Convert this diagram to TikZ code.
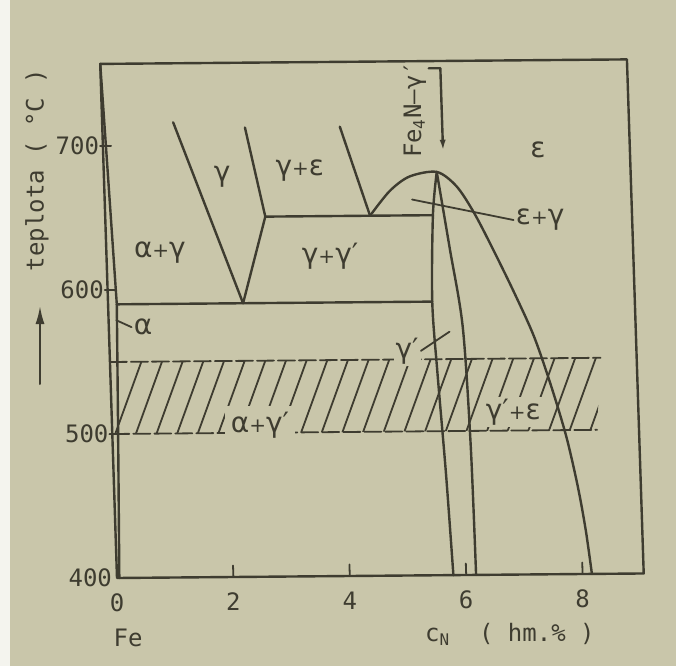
\documentclass[tikz,border=0pt]{standalone}
\usepackage{fontspec}
\setmainfont{DejaVu Sans}
\newfontfamily\monofnt{DejaVu Sans Mono}
\usetikzlibrary{arrows.meta}
\definecolor{paper}{RGB}{201,198,170}
\definecolor{ink}{RGB}{62,60,48}
\newcommand\plusm{{\fontsize{10}{10}\selectfont +}}
\begin{document}
\begin{tikzpicture}[
  line cap=round, line join=round,
  phase/.style={draw=ink, line width=1.2pt},
  thinline/.style={draw=ink, line width=0.9pt},
  lbl/.style={font=\fontsize{14}{14}\selectfont, text=ink, inner sep=1pt},
  num/.style={font=\monofnt\fontsize{12}{12}\selectfont, text=ink, inner sep=0pt},
]
\useasboundingbox (0,0) rectangle (338pt,333pt);
\fill[paper] (0,0) rectangle (338pt,333pt);
\fill[white!80!paper] (0,0) rectangle (5pt,333pt);

% y axis title and arrow
\node[num, rotate=90] (ytitle) at (18.5pt,248pt) {teplota ( °C )};
\coordinate (arrtail) at (20pt,141pt);
\coordinate (arrtip) at (20pt,180pt);
\draw[ink, line width=1pt, -{Latex[length=9pt,width=4.5pt]}] (arrtail) -- (arrtip);

\begin{scope}[shift={(58.5pt,44pt)}, x={(29.1pt,0.25pt)}, y={(-0.0235pt,0.72pt)}, shift={(0,-400)}]

% hatched band 500-550
\begin{scope}
\clip (0,500) -- (8.33,500) -- (8.43,550) -- (0,550) -- cycle;
\foreach \k in {0,...,24} {
  \draw[thinline] ({0.05+0.355*\k-0.098},490) -- ++(0.686,70);
}
\end{scope}
\draw[thinline, dash pattern=on 8.5pt off 2pt] (0,550) -- (8.43,550);
\draw[thinline, dash pattern=on 8.5pt off 2pt] (0,500) -- (8.33,500);

% labels
\node[lbl] (Lg) at (2.03,678) {γ};
\node[lbl] (Lge) at (3.37,682) {γ\plusm ε};
\node[lbl] (Lag) at (0.92,626) {α\plusm γ};
\node[lbl] (Lggp) at (3.84,622) {γ\plusm γ′};
\node[lbl] (Le) at (7.47,695) {ε};
\node[lbl] (Leg) at (7.47,646) {ε\plusm γ};
\node[lbl] (La) at (0.59,574) {α};
\node[lbl, fill=paper] (Lgp) at (5.11,556) {γ′};
\node[lbl, fill=paper, inner sep=3pt] (Lagp) at (2.54,505) {α\plusm γ′};
\node[lbl, fill=paper] (Lgpe) at (6.9,513) {γ′\plusm ε};

% leaders
\coordinate (legA) at (5.28,661);
\draw[thinline] (legA) -- (Leg.west);
\coordinate (gpA) at (5.85,569);
\draw[thinline] (Lgp.east) -- (gpA);
\coordinate (aA) at (0.13,579);
\draw[thinline] (aA) -- (La.west);

% Fe4N arrow
\node[num, rotate=90] (FeN) at (5.38,723.6) {Fe\textsubscript{4}N–γ′};
\coordinate (feBar) at (5.64,752);
\coordinate (feTop) at (5.84,752);
\coordinate (feTip) at (5.84,694);
\draw[phase, -{Latex[length=6pt,width=3pt]}] (feBar) -- (feTop) -- (feTip);

% frame
\draw[phase] (0,400) -- (9.05,400) -- (9.05,757) -- (0,757) -- cycle;

% ticks
\foreach \t in {500,600,700} { \draw[thinline] (-0.05,\t) -- (0.14,\t); }
\foreach \c in {2,4,6,8} { \draw[thinline] (\c,400) -- (\c,408); }

% tick labels
\node[num, anchor=east] (y400) at (-0.08,400) {400};
\node[num, anchor=east] (y500) at (-0.06,500) {500};
\node[num, anchor=east] (y600) at (-0.06,600) {600};
\node[num, anchor=east] (y700) at (-0.06,700) {700};
\node[num, yshift=-12.5pt] (x0) at (0,400) {0};
\node[num, yshift=-12.5pt] (x2) at (2,400) {2};
\node[num, yshift=-12.5pt] (x4) at (4,400) {4};
\node[num, yshift=-12.5pt] (x6) at (6,400) {6};
\node[num, yshift=-12.5pt] (x8) at (8,400) {8};
\node[num, yshift=-30pt] (fe) at (0.19,400) {Fe};
\node[num, yshift=-30pt] (cn) at (6.75,400) {c\textsubscript{N}\ \ ( hm.\% )};

% phase boundaries
\draw[phase] plot[smooth] coordinates {(0.0,757) (0.07,680) (0.15,590)};
\draw[phase] plot[smooth] coordinates {(0.15,590) (0.1,500) (0.04,400)};
\draw[phase] (0.15,590) -- (5.57,590);
\draw[phase] (1.22,716) -- (2.32,590);
\draw[phase] (2.45,712) -- (2.75,650) -- (2.32,590);
\draw[phase] (2.75,650) -- (5.63,650);
\draw[phase] (4.08,712) -- (4.55,650);
\draw[phase] plot[smooth] coordinates {(4.55,650) (4.9,667) (5.25,677) (5.72,680) (6.05,670) (6.33,652) (6.62,628) (6.98,596) (7.3,565) (7.57,530) (7.8,495) (7.97,460) (8.08,430) (8.16,400)};
\draw[phase] plot[smooth] coordinates {(5.72,680) (5.63,650) (5.57,590) (5.62,540) (5.71,470) (5.78,400)};
\draw[phase] plot[smooth] coordinates {(5.72,680) (5.9,627) (6.08,572) (6.15,490) (6.17,400)};
\end{scope}
\end{tikzpicture}
\end{document}
